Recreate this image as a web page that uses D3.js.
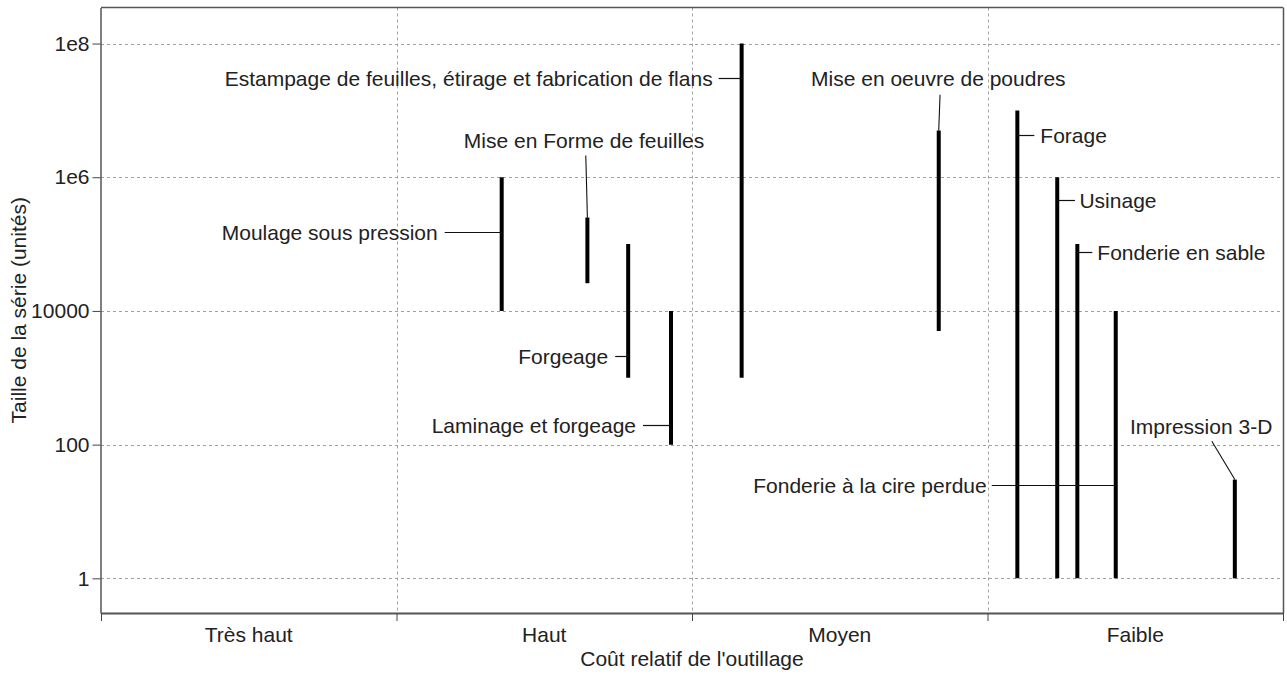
<!DOCTYPE html>
<html><head><meta charset="utf-8">
<script src="https://cdn.jsdelivr.net/npm/d3@7"></script>
<style>
body{margin:0;background:#fff}
svg text{font-family:"Liberation Sans",Arial,sans-serif;fill:#222}
</style>
</head><body>
<svg id="c" width="1287" height="675"></svg>
<script>
// ---------- data ----------
const categories = ["Très haut", "Haut", "Moyen", "Faible"];
const yTickValues = [1, 100, 10000, 1e6, 1e8];
const yTickLabels = ["1", "100", "10000", "1e6", "1e8"];
const processes = [
  "Moulage sous pression",
  "Mise en Forme de feuilles",
  "Forgeage",
  "Laminage et forgeage",
  "Estampage de feuilles, étirage et fabrication de flans",
  "Mise en oeuvre de poudres",
  "Forage",
  "Usinage",
  "Fonderie en sable",
  "Fonderie à la cire perdue",
  "Impression 3-D"
];
// position on the relative tooling cost axis (0..4, one unit per category)
const toolingCost = [1.356, 1.646, 1.784, 1.929, 2.168, 2.835, 3.101, 3.236, 3.304, 3.434, 3.837];
const batchMin = [1e4, 2.6e4, 1e3, 100, 1e3, 5e3, 1, 1, 1, 1, 1];
const batchMax = [1e6, 2.5e5, 1e5, 1e4, 1e8, 5e6, 1e7, 1e6, 1e5, 1e4, 30];
const labelAt  = [1.5e5, null, 2.1e3, 200, 3e7, null, 4.3e6, 4.6e5, 7.7e4, 25, null];
const xTitle = "Coût relatif de l'outillage";
const yTitle = "Taille de la série (unités)";

// ---------- layout ----------
const FONT = 21;
const labelLayout = [
  {type:"left", lead:57, gap:7},
  {type:"above", tx:-3.3, ty:-69, lx:-1.6, ly:-62},
  {type:"left", lead:13, gap:7},
  {type:"left", lead:28, gap:7},
  {type:"left", lead:23, gap:6},
  {type:"above", tx:-0.4, ty:-45, lx:1.3, ly:-35.7},
  {type:"right", lead:17, gap:6},
  {type:"right", lead:17.7, gap:4.5},
  {type:"right", lead:15, gap:5},
  {type:"left", lead:124, gap:5},
  {type:"above", tx:-33.7, ty:-46, lx:-23, ly:-38.3}
];

const svg = d3.select("#c");
const x = d3.scaleLinear().domain([0, categories.length]).range([101, 1283]);
const band = d3.scaleBand().domain(categories).range([101, 1283]);
const y = d3.scaleLog().domain([0.303, 3.46e8]).range([613, 7.5]);
const [yBot, yTop] = y.range();

// grid
svg.append("g").selectAll("line").data(yTickValues).join("line")
  .attr("x1", x(0)).attr("x2", x(categories.length))
  .attr("y1", d => Math.round(y(d)) + 0.5).attr("y2", d => Math.round(y(d)) + 0.5)
  .attr("stroke", "#a0a0a0").attr("stroke-dasharray", "3,3");
svg.append("g").selectAll("line").data(d3.range(1, categories.length)).join("line")
  .attr("x1", d => Math.round(x(d)) + 0.5).attr("x2", d => Math.round(x(d)) + 0.5)
  .attr("y1", yTop).attr("y2", yBot)
  .attr("stroke", "#a0a0a0").attr("stroke-dasharray", "3,3");

// frame (top / right)
svg.append("line").attr("x1", x(0)).attr("x2", x(4)).attr("y1", yTop).attr("y2", yTop)
  .attr("stroke", "#555").attr("stroke-width", 1.5);
svg.append("line").attr("x1", x(4) + 0.5).attr("x2", x(4) + 0.5).attr("y1", yTop).attr("y2", yBot)
  .attr("stroke", "#555").attr("stroke-width", 1.5);

// y axis
const ya = svg.append("g").attr("transform", "translate(100.5,0)")
  .call(d3.axisLeft(y).tickValues(yTickValues).tickFormat((d, i) => yTickLabels[i])
    .tickSize(8).tickSizeOuter(0).tickPadding(3));
ya.select(".domain").attr("stroke", "#555").attr("stroke-width", 1.5);
ya.selectAll(".tick line").attr("stroke", "#444");
ya.selectAll("text").style("font-size", FONT + "px").attr("fill", "#222").attr("font-family", null);

// x axis: boundary ticks
const xa = svg.append("g").attr("transform", `translate(0,${yBot})`)
  .call(d3.axisBottom(x).tickValues(d3.range(0, categories.length + 1)).tickFormat("")
    .tickSize(8).tickSizeOuter(0));
xa.select(".domain").attr("stroke", "#555").attr("stroke-width", 2.2);
xa.selectAll(".tick line").attr("stroke", "#444");
// category labels
const xl = svg.append("g").attr("transform", `translate(0,${yBot})`)
  .call(d3.axisBottom(band).tickSize(0).tickPadding(14));
xl.select(".domain").remove();
xl.selectAll("text").style("font-size", FONT + "px").attr("fill", "#222").attr("font-family", null);

// axis titles
svg.append("text").attr("x", x(2)).attr("y", 666).attr("text-anchor", "middle")
  .style("font-size", FONT + "px").text(xTitle);
svg.append("text").attr("transform", `translate(19,${(yTop + yBot) / 2}) rotate(-90)`)
  .attr("text-anchor", "middle").attr("dy", "0.35em")
  .style("font-size", FONT + "px").text(yTitle);

// bars
svg.append("g").selectAll("line").data(processes).join("line")
  .attr("x1", (d, i) => x(toolingCost[i])).attr("x2", (d, i) => x(toolingCost[i]))
  .attr("y1", (d, i) => y(batchMin[i])).attr("y2", (d, i) => y(batchMax[i]))
  .attr("stroke", "#000").attr("stroke-width", 4);

// labels + leaders
const lg = svg.append("g");
processes.forEach((name, i) => {
  const L = labelLayout[i];
  const bx = x(toolingCost[i]);
  if (L.type === "left" || L.type === "right") {
    const ly = Math.round(y(labelAt[i])) + 0.5;
    const s = L.type === "left" ? -1 : 1;
    lg.append("line").attr("x1", bx).attr("x2", bx + s * L.lead).attr("y1", ly).attr("y2", ly)
      .attr("stroke", "#111").attr("stroke-width", 1.2);
    lg.append("text").attr("x", bx + s * (L.lead + L.gap)).attr("y", ly).attr("dy", "0.35em")
      .attr("text-anchor", L.type === "left" ? "end" : "start")
      .style("font-size", FONT + "px").text(name);
  } else {
    const by = y(batchMax[i]);
    lg.append("line").attr("x1", bx + L.lx).attr("y1", by + L.ly).attr("x2", bx).attr("y2", by)
      .attr("stroke", "#111").attr("stroke-width", 1.1);
    lg.append("text").attr("x", bx + L.tx).attr("y", by + L.ty).attr("text-anchor", "middle")
      .style("font-size", FONT + "px").text(name);
  }
});
</script>
</body></html>
